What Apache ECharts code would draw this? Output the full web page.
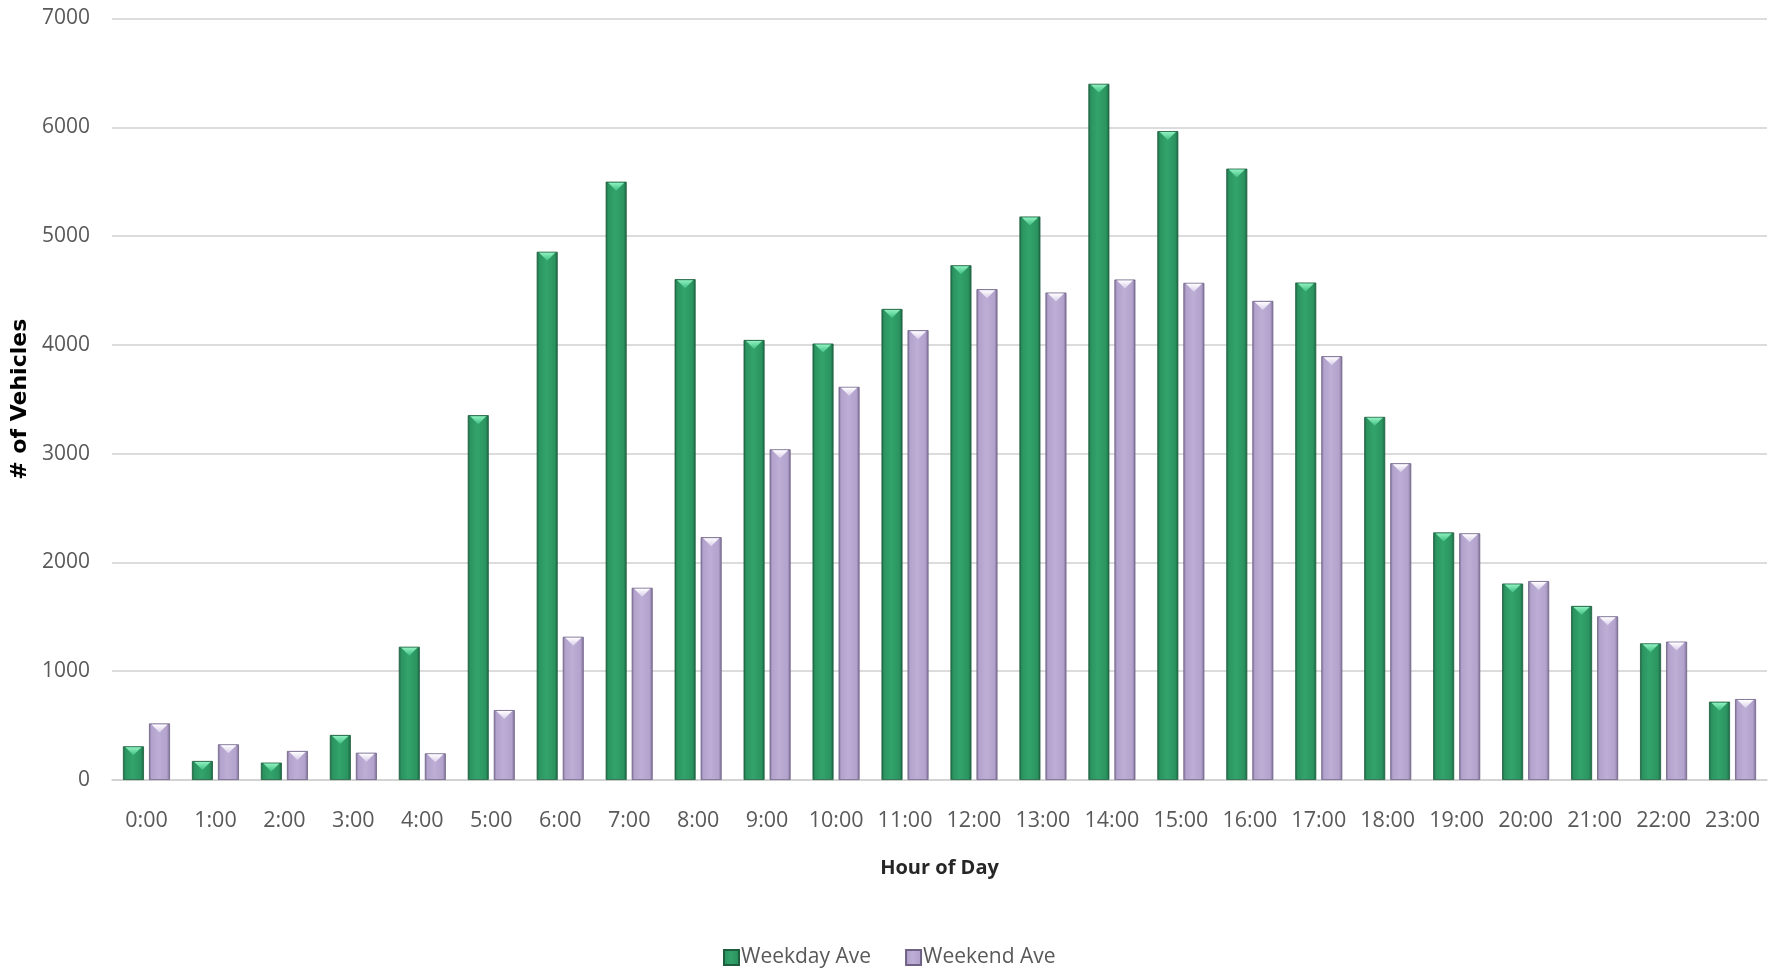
<!DOCTYPE html>
<html>
<head>
<meta charset="utf-8">
<script src="https://cdn.jsdelivr.net/npm/echarts@6/dist/echarts.min.js"></script>
<style>
html,body{margin:0;padding:0;background:#fff;}
#chart{width:1785px;height:970px;}
</style>
</head>
<body>
<div id="chart"></div>
<script>
const hours = ['0:00','1:00','2:00','3:00','4:00','5:00','6:00','7:00','8:00','9:00','10:00','11:00','12:00','13:00','14:00','15:00','16:00','17:00','18:00','19:00','20:00','21:00','22:00','23:00'];
const weekdayAve = [310, 175, 160, 414, 1225, 3354, 4856, 5500, 4604, 4045, 4012, 4330, 4732, 5180, 6400, 5965, 5620, 4573, 3338, 2276, 1806, 1600, 1256, 720];
const weekendAve = [520, 328, 267, 251, 245, 643, 1317, 1767, 2232, 3040, 3614, 4135, 4512, 4481, 4601, 4570, 4404, 3896, 2912, 2268, 1829, 1505, 1272, 744];
const seriesNames = ['Weekday Ave', 'Weekend Ave'];
const yTicks = { min: 0, max: 7000, interval: 1000 };

const BAR_W = 21;
const GAP_PCT = 0.24;

function hGrad(edge, mid, light) {
  return new echarts.graphic.LinearGradient(0, 0, 1, 0, [
    { offset: 0, color: edge },
    { offset: 0.12, color: mid },
    { offset: 0.45, color: light },
    { offset: 0.85, color: mid },
    { offset: 1, color: edge }
  ]);
}
const greenFill = hGrad('#1b6340', '#2b9460', '#33a36b');
const purpleFill = hGrad('#7b6c93', '#b2a2cc', '#bdaed6');

function triSeries(values, sign, topColor, botColor) {
  return {
    type: 'custom',
    silent: true,
    z: 5,
    data: values.map((v, i) => [i, v]),
    encode: { x: 0, y: 1 },
    renderItem: function (params, api) {
      const p = api.coord([api.value(0), api.value(1)]);
      const off = sign * (BAR_W + BAR_W * GAP_PCT) / 2;
      const cx = p[0] + off;
      const top = p[1] + 1;
      return {
        type: 'polygon',
        shape: { points: [[cx - 8, top], [cx + 8, top], [cx, top + 8]] },
        style: {
          fill: new echarts.graphic.LinearGradient(0, 0, 0, 1, [
            { offset: 0, color: topColor },
            { offset: 1, color: botColor }
          ])
        }
      };
    }
  };
}

const chart = echarts.init(document.getElementById('chart'), null, { renderer: 'canvas' });
chart.setOption({
  animation: false,
  backgroundColor: '#ffffff',
  grid: { left: 112, right: 18, top: 18.5, bottom: 190, containLabel: false, outerBoundsMode: 'none' },
  legend: {
    data: seriesNames,
    left: 718,
    top: 942,
    itemWidth: 15,
    itemHeight: 15,
    itemGap: 34,
    icon: 'rect',
    textStyle: { fontFamily: 'Open Sans', fontSize: 21, color: '#595959', padding: [0, 0, 0, -3] }
  },
  xAxis: {
    type: 'category',
    data: hours,
    name: 'Hour of Day',
    nameLocation: 'middle',
    nameGap: 78,
    nameTextStyle: { fontFamily: 'Open Sans', fontWeight: 'bold', fontSize: 20, color: '#262626' },
    axisTick: { show: false },
    axisLine: { lineStyle: { color: '#d0d0d0', width: 1.5 } },
    axisLabel: { fontFamily: 'Open Sans', fontSize: 21.5, color: '#595959', margin: 30, interval: 0, hideOverlap: false }
  },
  yAxis: {
    type: 'value',
    min: yTicks.min,
    max: yTicks.max,
    interval: yTicks.interval,
    name: '# of Vehicles',
    nameLocation: 'middle',
    nameRotate: 90,
    nameGap: 79,
    nameTextStyle: { fontFamily: 'DejaVu Sans', fontWeight: 'bold', fontSize: 22, color: '#000000' },
    axisLine: { show: false },
    axisTick: { show: false },
    splitLine: { lineStyle: { color: '#d0d0d0', width: 1.5 } },
    axisLabel: { fontFamily: 'Open Sans', fontSize: 21, color: '#595959', margin: 22, formatter: function (v) { return String(v); } }
  },
  series: [
    {
      name: seriesNames[0], type: 'bar', data: weekdayAve,
      barWidth: BAR_W, barGap: (GAP_PCT * 100) + '%',
      itemStyle: { color: greenFill, borderColor: '#1d5e3d', borderWidth: 0.8 }
    },
    {
      name: seriesNames[1], type: 'bar', data: weekendAve,
      barWidth: BAR_W, barGap: (GAP_PCT * 100) + '%',
      itemStyle: { color: purpleFill, borderColor: '#6f6285', borderWidth: 0.8 }
    },
    triSeries(weekdayAve, -1, '#8ff0c0', '#3fbf80'),
    triSeries(weekendAve, 1, '#ffffff', '#d8cdea')
  ]
});
</script>
</body>
</html>
